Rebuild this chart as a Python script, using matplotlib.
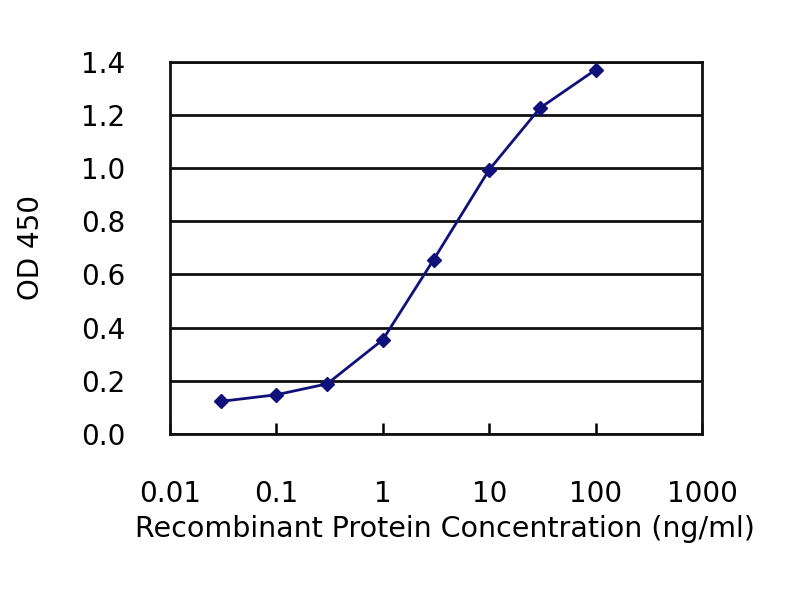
import matplotlib
matplotlib.use("Agg")
import matplotlib.pyplot as plt

# concentrations (ng/ml) and OD 450 readings
conc = [0.03, 0.1, 0.3, 1, 3, 10, 30, 100]
od450 = [0.122, 0.147, 0.188, 0.354, 0.655, 0.994, 1.226, 1.37]

xticks = [0.01, 0.1, 1, 10, 100, 1000]
xticklabels = ["0.01", "0.1", "1", "10", "100", "1000"]
yticks = [0.0, 0.2, 0.4, 0.6, 0.8, 1.0, 1.2, 1.4]
yticklabels = ["0.0", "0.2", "0.4", "0.6", "0.8", "1.0", "1.2", "1.4"]

plt.rcParams['font.family'] = ['DejaVu Sans']

fig = plt.figure(figsize=(8, 6), dpi=100)
ax = fig.add_axes([0.2125, 0.277, 0.665, 0.62])

ax.plot(conc, od450, color='#10107a', lw=2, marker='D', markersize=7,
        markerfacecolor='#10107a', markeredgecolor='#10107a', zorder=3)

ax.set_xscale('log')
ax.set_xlim(0.01, 1000)
ax.set_ylim(0, 1.4)
ax.set_xticks(xticks)
ax.set_xticklabels(xticklabels)
ax.xaxis.set_minor_locator(matplotlib.ticker.NullLocator())
ax.set_yticks(yticks)
ax.set_yticklabels(yticklabels)

ax.yaxis.grid(True, color='#111111', lw=2)
ax.set_axisbelow(True)
for s in ax.spines.values():
    s.set_linewidth(2)
    s.set_color('#111111')

ax.tick_params(axis='x', direction='in', length=8, width=1.8, pad=33, labelsize=20)
ax.tick_params(axis='y', length=0, pad=32, labelsize=20)

ax.set_xlabel("Recombinant Protein Concentration (ng/ml)", fontsize=20.5)
ax.xaxis.set_label_coords(0.517, -0.218)
ax.set_ylabel("OD 450", fontsize=20)
ax.yaxis.set_label_coords(-0.235, 0.5)

fig.savefig("out.png", dpi=100)
